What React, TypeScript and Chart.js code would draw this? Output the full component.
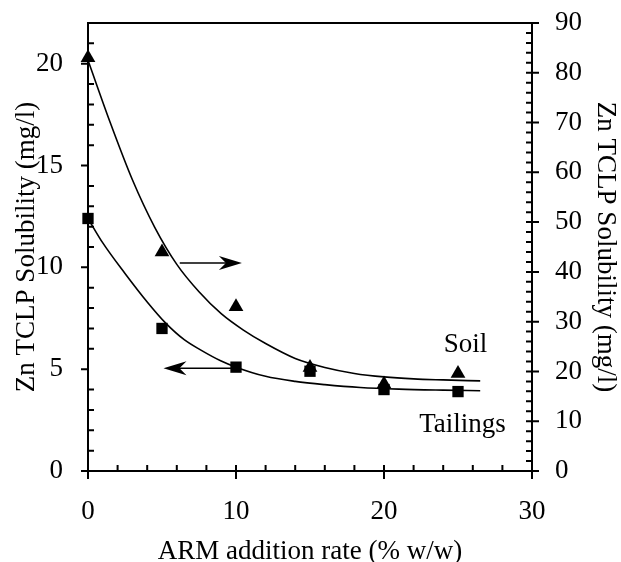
import { useEffect, useRef } from 'react';
import { Chart, registerables } from 'chart.js';

Chart.register(...registerables);

// Measured data points
const addRates = [0, 5, 10, 15, 20, 25];
const soilValues = [83, 44, 33, 20.8, 17.5, 19.6]; // right axis
const tailingsValues = [12.4, 7.0, 5.1, 4.9, 4.0, 3.9]; // left axis

// Fitted trend curves
const soilFitX = [0, 1.5, 3, 4.5, 6, 7.5, 9, 10.5, 12, 14, 16, 18, 20, 22, 24, 26.5];
const soilFitY = [82.5, 70, 58.5, 49, 41.5, 36, 31.6, 28.3, 25.6, 22.6, 20.8, 19.6, 18.9, 18.5, 18.3, 18.1];
const tailFitX = [0, 1, 2.5, 4, 5.2, 6.5, 7.6, 9, 10, 12, 14, 16, 18.4, 21, 24, 26.5];
const tailFitY = [12.4, 11.2, 9.7, 8.3, 7.3, 6.45, 5.95, 5.4, 5.1, 4.65, 4.4, 4.24, 4.1, 4.02, 3.97, 3.94];

// Tick labels
const xTicks = [0, 10, 20, 30];
const leftTicks = [0, 5, 10, 15, 20];
const rightTicks = [0, 10, 20, 30, 40, 50, 60, 70, 80, 90];

const xTitle = 'ARM addition rate (% w/w)';
const yTitle = 'Zn TCLP Solubility (mg/l)';
const soilLabel = 'Soil';
const tailLabel = 'Tailings';

const FONT_FAMILY = '"Liberation Serif", "Times New Roman", serif';
const font = { family: FONT_FAMILY, size: 27 };

const decorPlugin = {
  id: 'decor',
  beforeDatasetsDraw(chart: any) {
    const { ctx, chartArea: a, scales } = chart;
    const sx = scales.x, yl = scales.y, yr = scales.y2;
    ctx.save();
    ctx.strokeStyle = '#000';
    ctx.lineWidth = 2;
    ctx.beginPath();
    ctx.moveTo(a.left - 1, a.top);
    ctx.lineTo(a.right + 1, a.top);
    for (let v = 0; v <= 30; v += 2) {
      const p = sx.getPixelForValue(v);
      const major = v % 10 === 0;
      ctx.moveTo(p, a.bottom - 6);
      ctx.lineTo(p, a.bottom + (major ? 8 : 0));
    }
    for (let v = 0; v <= 22; v += 1) {
      const p = yl.getPixelForValue(v);
      if (v % 5 === 0) {
        ctx.moveTo(a.left - 7, p);
        ctx.lineTo(a.left, p);
      } else {
        ctx.moveTo(a.left, p);
        ctx.lineTo(a.left + 6, p);
      }
    }
    for (let v = 0; v <= 90; v += 2) {
      const p = yr.getPixelForValue(v);
      const major = v % 10 === 0;
      ctx.moveTo(a.right - 6, p);
      ctx.lineTo(a.right + (major ? 7 : 0), p);
    }
    ctx.stroke();
    ctx.restore();
  },
  afterDatasetsDraw(chart: any) {
    const { ctx, scales } = chart;
    const sx = scales.x, yl = scales.y, yr = scales.y2;
    const arrow = (x1: number, x2: number, y: number) => {
      const dir = Math.sign(x2 - x1);
      ctx.beginPath();
      ctx.moveTo(x1, y);
      ctx.lineTo(x2 - dir * 12, y);
      ctx.stroke();
      ctx.beginPath();
      ctx.moveTo(x2, y);
      ctx.lineTo(x2 - dir * 23, y - 7);
      ctx.lineTo(x2 - dir * 16, y);
      ctx.lineTo(x2 - dir * 23, y + 7);
      ctx.closePath();
      ctx.fill();
    };
    ctx.save();
    ctx.strokeStyle = '#000';
    ctx.fillStyle = '#000';
    ctx.lineWidth = 1.5;
    arrow(sx.getPixelForValue(6.2), sx.getPixelForValue(10.4), yr.getPixelForValue(41.8));
    arrow(sx.getPixelForValue(9.7), sx.getPixelForValue(5.1), yl.getPixelForValue(5.05));
    ctx.font = `27px ${FONT_FAMILY}`;
    ctx.textAlign = 'center';
    ctx.textBaseline = 'middle';
    ctx.fillText(soilLabel, sx.getPixelForValue(25.5), yr.getPixelForValue(25.3));
    ctx.fillText(tailLabel, sx.getPixelForValue(25.3), yl.getPixelForValue(2.25));
    ctx.restore();
  },
};

export default function App() {
  const ref = useRef<HTMLCanvasElement | null>(null);
  useEffect(() => {
    if (!ref.current) return;
    const chart = new Chart(ref.current, {
      type: 'scatter',
      data: {
        datasets: [
          {
            label: 'Soil',
            data: addRates.map((x, i) => ({ x, y: soilValues[i] })),
            yAxisID: 'y2',
            pointStyle: 'triangle',
            pointRadius: 8.5,
            backgroundColor: '#000',
            borderColor: '#000',
            borderWidth: 0,
            clip: false,
          },
          {
            label: 'Tailings',
            data: addRates.map((x, i) => ({ x, y: tailingsValues[i] })),
            yAxisID: 'y',
            pointStyle: 'rect',
            pointRadius: 8,
            backgroundColor: '#000',
            borderColor: '#000',
            borderWidth: 0,
            clip: false,
          },
          {
            label: 'Soil fit',
            data: soilFitX.map((x, i) => ({ x, y: soilFitY[i] })),
            yAxisID: 'y2',
            showLine: true,
            pointRadius: 0,
            borderColor: '#000',
            borderWidth: 1.6,
            cubicInterpolationMode: 'monotone',
            clip: false,
          },
          {
            label: 'Tailings fit',
            data: tailFitX.map((x, i) => ({ x, y: tailFitY[i] })),
            yAxisID: 'y',
            showLine: true,
            pointRadius: 0,
            borderColor: '#000',
            borderWidth: 1.6,
            cubicInterpolationMode: 'monotone',
            clip: false,
          },
        ],
      } as any,
      options: {
        animation: false,
        responsive: false,
        devicePixelRatio: 1,
        layout: { padding: { top: 23, left: 0, right: 0, bottom: 0 }, autoPadding: false } as any,
        plugins: { legend: { display: false }, tooltip: { enabled: false } },
        scales: {
          x: {
            type: 'linear',
            position: 'bottom',
            min: 0,
            max: 30,
            afterBuildTicks: (s: any) => { s.ticks = xTicks.map((value) => ({ value })); },
            afterFit: (s: any) => { s.height = 91; s.paddingLeft = 0; s.paddingRight = 0; },
            ticks: { font, color: '#000', padding: 25 },
            grid: { display: false, drawTicks: false },
            border: { display: true, color: '#000', width: 2 },
            title: { display: true, text: xTitle, font, color: '#000', padding: { top: 0, bottom: -6 } },
          },
          y: {
            type: 'linear',
            position: 'left',
            min: 0,
            max: 22,
            afterBuildTicks: (s: any) => { s.ticks = leftTicks.map((value) => ({ value })); },
            afterFit: (s: any) => { s.width = 88; s.paddingTop = 0; s.paddingBottom = 0; },
            ticks: { font, color: '#000', padding: 25 },
            grid: { display: false, drawTicks: false },
            border: { display: true, color: '#000', width: 2 },
            title: { display: true, text: yTitle, font, color: '#000', padding: { top: 11, bottom: 0 } },
          },
          y2: {
            type: 'linear',
            position: 'right',
            min: 0,
            max: 90,
            afterBuildTicks: (s: any) => { s.ticks = rightTicks.map((value) => ({ value })); },
            afterFit: (s: any) => { s.width = 89; s.paddingTop = 0; s.paddingBottom = 0; },
            ticks: { font, color: '#000', padding: 23 },
            grid: { display: false, drawTicks: false },
            border: { display: true, color: '#000', width: 2 },
            title: { display: true, text: yTitle, font, color: '#000', padding: { top: 0, bottom: 0 } },
          },
        },
      } as any,
      plugins: [decorPlugin],
    });
    return () => chart.destroy();
  }, []);
  return (
    <div style={{ position: 'absolute', left: 0, top: 0, width: 621, height: 562, background: '#fff' }}>
      <canvas ref={ref} width={621} height={562} style={{ display: 'block' }} />
    </div>
  );
}
